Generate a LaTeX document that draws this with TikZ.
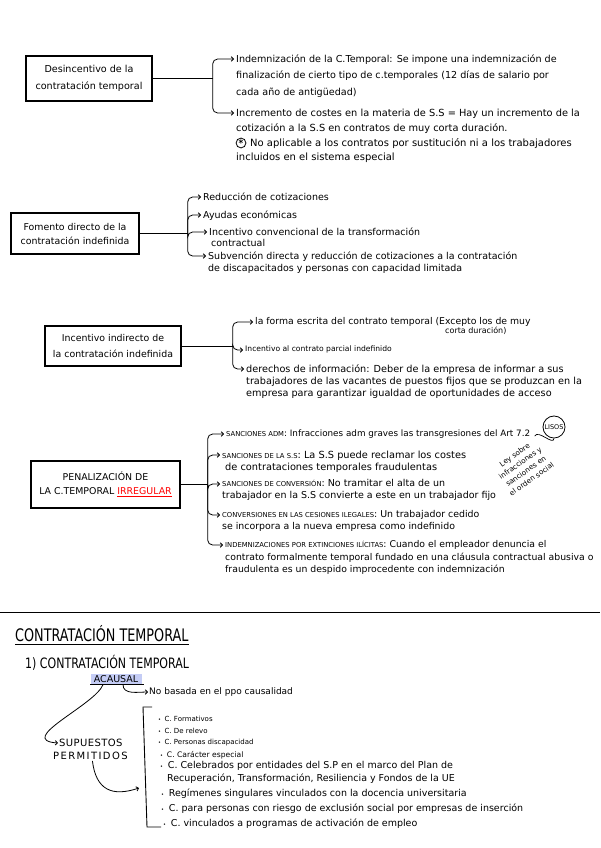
\documentclass[tikz,border=0pt]{standalone}
\usepackage{graphicx}
\usepackage{fontspec}
\setmainfont{DejaVu Sans}
\usetikzlibrary{arrows.meta,positioning,calc}

\definecolor{marker}{RGB}{196,204,245}
\newcommand{\upword}[1]{{\fontsize{6.8}{8}\selectfont #1}}
\newcommand{\dotitem}{{\fontsize{5}{5}\selectfont\textbullet}\enspace}

\begin{document}
\begin{tikzpicture}[
  x=1pt, y=-1pt,
  topic/.style={draw, line width=1.3pt, rectangle, align=center, font=\fontsize{9.4}{14}\selectfont},
  note/.style={anchor=north west, align=left, inner sep=0pt, font=\fontsize{9.5}{12}\selectfont},
  item/.style={anchor=base west, inner sep=0pt, font=\fontsize{9.5}{13}\selectfont},
  link/.style={line width=0.9pt},
  arrow/.style={line width=0.8pt, rounded corners=5pt, -{Straight Barb[length=2.2pt,width=4.5pt]}}
]
\useasboundingbox (0,0) rectangle (600,848);

% desincentivo
\node[topic, minimum width=126pt, minimum height=45pt, font=\fontsize{9.6}{17}\selectfont] (b1) at (89,78.5) {Desincentivo de la\\contratación temporal};
\coordinate (j1) at ($(b1.east)+(60,0)$);
\node[note, font=\fontsize{9.6}{16.5}\selectfont] (t11) at (236,54.5) {Indemnización de la C.Temporal: Se impone una indemnización de\\finalización de cierto tipo de c.temporales (12 días de salario por\\cada año de antigüedad)};
\node[note, font=\fontsize{9.8}{15}\selectfont] (t12) at (236,108.5) {Incremento de costes en la materia de S.S = Hay un incremento de la\\cotización a la S.S en contratos de muy corta duración.};
\node[note, font=\fontsize{10}{14}\selectfont] (t13) at (236,138.5) {\hspace{14pt}No aplicable a los contratos por sustitución ni a los trabajadores\\incluidos en el sistema especial};
\node[draw, circle, line width=0.8pt, inner sep=0.6pt, font=\bfseries\small] (ast) at (241,143) {*};
\draw[link] (b1.east) -- (j1);
\draw[arrow] (j1) |- ([xshift=-2pt,yshift=-4.5pt]t11.north west);
\draw[arrow] (j1) |- ([xshift=-2pt,yshift=-4.5pt]t12.north west);

% fomento directo
\node[topic, minimum width=128pt, minimum height=41pt] (b2) at (75,233.5) {Fomento directo de la\\contratación indefinida};
\coordinate (j2) at ($(b2.east)+(48,0)$);
\node[note] (t21) at (203,192.5) {Reducción de cotizaciones};
\node[note] (t22) at (203,210.5) {Ayudas económicas};
\node[note, font=\fontsize{9.5}{11.5}\selectfont] (t23) at (209,227.5) {Incentivo convencional de la transformación\\\hspace{2pt}contractual};
\node[note] (t24) at (208,251.5) {Subvención directa y reducción de cotizaciones a la contratación\\de discapacitados y personas con capacidad limitada};
\draw[link] (b2.east) -- (j2);
\foreach \t in {t21,t22,t23,t24}
  \draw[arrow] (j2) |- ([xshift=-2pt,yshift=-4.5pt]\t.north west);

% incentivo indirecto
\node[topic, minimum width=136pt, minimum height=40pt, font=\fontsize{9.4}{16}\selectfont] (b3) at (113,346) {Incentivo indirecto de\\la contratación indefinida};
\coordinate (j3) at ($(b3.east)+(51,0)$);
\node[note, font=\fontsize{9.3}{12}\selectfont] (t31) at (255,317.5) {la forma escrita del contrato temporal (Excepto los de muy};
\node[note, font=\fontsize{8}{10}\selectfont] (t31b) at (445,327) {corta duración)};
\node[note, font=\fontsize{7.6}{10}\selectfont] (t32) at (245,345.5) {Incentivo al contrato parcial indefinido};
\node[note, font=\fontsize{9.7}{12}\selectfont] (t33) at (246,364.5) {derechos de información: Deber de la empresa de informar a sus\\trabajadores de las vacantes de puestos fijos que se produzcan en la\\empresa para garantizar igualdad de oportunidades de acceso};
\draw[link] (b3.east) -- (j3);
\foreach \t in {t31,t32,t33}
  \draw[arrow] (j3) |- ([xshift=-2pt,yshift=-4.5pt]\t.north west);

% penalizacion
\node[topic, minimum width=149pt, minimum height=47pt] (b4) at (105.5,484.5) {PENALIZACIÓN DE\\LA C.TEMPORAL \textcolor{red}{\underline{IRREGULAR}}};
\coordinate (j4) at ($(b4.east)+(27,0)$);
\node[note, font=\fontsize{8.8}{12}\selectfont] (t41) at (226,429.5) {\upword{SANCIONES ADM}: Infracciones adm graves las transgresiones del Art 7.2};
\node[note, font=\fontsize{9.8}{12}\selectfont] (t42) at (222,450.5) {\upword{SANCIONES DE LA S.S}: La S.S puede reclamar los costes\\\hspace{3pt}de contrataciones temporales fraudulentas};
\node[note] (t43) at (222,479.5) {\upword{SANCIONES DE CONVERSIÓN}: No tramitar el alta de un\\trabajador en la S.S convierte a este en un trabajador fijo};
\node[note, font=\fontsize{9.4}{12}\selectfont] (t44) at (222,510.5) {\upword{CONVERSIONES EN LAS CESIONES ILEGALES}: Un trabajador cedido\\se incorpora a la nueva empresa como indefinido};
\node[note, font=\fontsize{9.3}{12.5}\selectfont] (t45) at (225,540.5) {\upword{INDEMNIZACIONES POR EXTINCIONES ILÍCITAS}: Cuando el empleador denuncia el\\contrato formalmente temporal fundado en una cláusula contractual abusiva o\\fraudulenta es un despido improcedente con indemnización};
\draw[link] (b4.east) -- (j4);
\foreach \t in {t41,t42,t43,t44,t45}
  \draw[arrow] (j4) |- ([xshift=-2pt,yshift=-4.5pt]\t.north west);
\node[draw, circle, line width=0.8pt, inner sep=1pt, minimum size=22pt, font=\fontsize{6.5}{7}\selectfont] (lisos) at (554,427) {LISOS};
\node[rotate=35, align=center, inner sep=1pt, font=\fontsize{7.2}{9.8}\selectfont] (ley) at (523,467) {Ley sobre\\infracciones y\\sanciones en\\el orden social};
\draw[link, line width=0.7pt] (lisos.south) to[out=-95,in=60] (ley.north east);

\draw[line width=1pt] (0,612) -- (600,612);

% contratacion temporal
\node[anchor=base west, inner xsep=0pt, inner ysep=3pt, font=\fontsize{12.8}{14}\selectfont] (title) at (15,641) {\scalebox{1}[1.35]{CONTRATACIÓN TEMPORAL}};
\draw[line width=1.2pt] (title.south west) -- (title.south east);
\node[anchor=base west, inner sep=0pt, font=\fontsize{11}{12}\selectfont] (sub) at (25,668) {\scalebox{1}[1.3]{1) CONTRATACIÓN TEMPORAL}};
\node[fill=marker, inner sep=0pt, minimum width=51pt, minimum height=11pt, font=\fontsize{9.5}{10}\selectfont] (acau) at (116,679) {ACAUSAL};
\draw[line width=1.5pt] (acau.south west) -- ([xshift=2pt]acau.south east);
\node[anchor=west, inner sep=1pt, font=\fontsize{9}{10}\selectfont] (nob) at (148,692) {No basada en el ppo causalidad};
\draw[arrow] ([xshift=7pt]acau.south) to[out=-90,in=180] (nob.west);

\node[anchor=west, inner sep=1pt, font=\fontsize{10}{11}\selectfont\addfontfeature{LetterSpace=4}] (sup1) at (58,743) {SUPUESTOS};
\node[anchor=west, inner sep=1pt, font=\fontsize{10}{11}\selectfont\addfontfeature{LetterSpace=14}] (sup2) at (52,756) {PERMITIDOS};
\draw[arrow] ([xshift=-13pt]acau.south) .. controls (95,705) and (15,740) .. (sup1.west);

\coordinate (brtop) at (143,707);
\coordinate (brbot) at (147,827);
\coordinate (brin) at (139,788);
\draw[link] ($(brtop)+(9,0)$) -- (brtop) -- (brbot) -- ++(14,0);
\draw[arrow] ([xshift=2pt]sup2.south) .. controls (96,790) and (112,797) .. (brin);

\node[item, font=\fontsize{7}{9}\selectfont] (i1) at (158,721) {\dotitem C. Formativos};
\node[item, font=\fontsize{7}{9}\selectfont] (i2) at (158,733) {\dotitem C. De relevo};
\node[item, font=\fontsize{7}{9}\selectfont] (i3) at (158,744) {\dotitem C. Personas discapacidad};
\node[item, font=\fontsize{7.6}{9}\selectfont] (i4) at (160,757) {\dotitem C. Carácter especial};
\node[item, anchor=north west, align=left] (i5) at (160,761.5) {\dotitem C. Celebrados por entidades del S.P en el marco del Plan de\\\hspace{7pt}Recuperación, Transformación, Resiliencia y Fondos de la UE};
\node[item] (i6) at (161,796) {\dotitem Regímenes singulares vinculados con la docencia universitaria};
\node[item] (i7) at (161,811) {\dotitem C. para personas con riesgo de exclusión social por empresas de inserción};
\node[item] (i8) at (163,826) {\dotitem C. vinculados a programas de activación de empleo};
\end{tikzpicture}
\end{document}
